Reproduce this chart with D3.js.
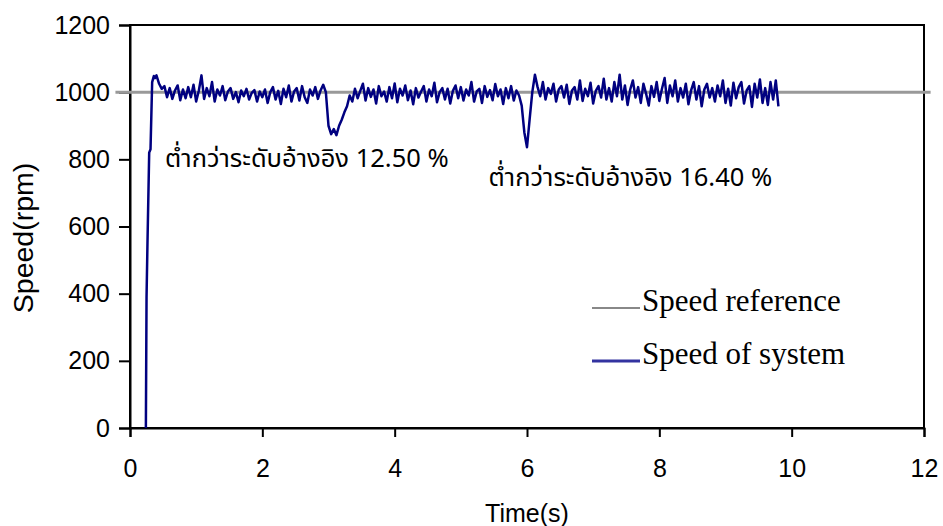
<!DOCTYPE html>
<html>
<head>
<meta charset="utf-8">
<script src="https://cdn.jsdelivr.net/npm/d3@7"></script>
<style>
  body { margin: 0; background: #fff; }
  svg { display: block; }
  .tick text { font-family: "Liberation Sans", Arial, sans-serif; }
</style>
</head>
<body>
<div id="chart"></div>
<script>
// axis ticks
const xTicks = [0, 2, 4, 6, 8, 10, 12];
const yTicks = [0, 200, 400, 600, 800, 1000, 1200];

// speed reference (flat line, drawn a little past both axes like the original)
const refTimes = [-0.22, 12.1];
const refSpeeds = [1000, 1000];

// start-up of the motor
const riseTimes = [0.24, 0.25, 0.265, 0.29, 0.31, 0.335, 0.36, 0.38, 0.40];
const riseSpeeds = [0, 390, 560, 820, 830, 1030, 1048, 1042, 1050];

// steady running, one sample every 0.04 s from 0.44 s
const sampleStart = 0.44;
const sampleStep = 0.04;
const speedValues = [
  1025, 1010, 1018, 985, 1012, 980, 1005, 1020, 976, 1008,
  982, 1015, 985, 1022, 972, 1004, 1050, 980, 1012, 988,
  1030, 972, 1008, 990, 1018, 976, 1002, 1012, 980, 1000,
  970, 1005, 988, 1010, 978, 998, 1006, 972, 1002, 985,
  1008, 968, 1000, 1015, 978, 1004, 965, 1010, 985, 1020,
  972, 1002, 1012, 975, 1018, 985, 968, 1008, 990, 1015,
  980, 1005, 1022, 1000, 900, 875, 890, 872, 900, 918,
  940, 958, 990, 972, 1010, 982, 1004, 1025, 975, 1012,
  986, 1008, 966, 1018, 988, 1002, 972, 1015, 982, 1026,
  970, 1010, 990, 1020, 976, 1005, 964, 1012, 984, 1002,
  1018, 972, 1008, 988, 1028, 970, 1000, 1012, 978, 1010,
  966, 1004, 1020, 982, 1015, 975, 1008, 990, 1030, 972,
  1002, 1010, 968, 1018, 986, 1006, 976, 1024, 988, 1008,
  965, 1012, 982, 1018, 975, 1005, 990, 960, 880, 836,
  920, 1000, 1052, 1015, 988, 1030, 978, 1012, 995, 1025,
  972, 1008, 1018, 984, 1022, 965, 1005, 1015, 978, 1035,
  974, 1010, 988, 1028, 966, 1004, 1018, 984, 1040, 978,
  1012, 972, 1030, 988, 1052, 978, 1020, 962, 1008, 1035,
  984, 1015, 968, 1025, 995, 960, 1018, 986, 1030, 974,
  1010, 1042, 968, 1020, 988, 1035, 972, 1012, 984, 1025,
  964, 1005, 1030, 978, 1018, 958, 1008, 1025, 984, 1012,
  972, 1020, 988, 1035, 968, 1010, 960, 1028, 982, 1015,
  1030, 966, 1005, 1018, 956, 1025, 984, 1038, 968, 1012,
  962, 1030, 978, 1035, 958
];

const notes = [
  { t: 0.53, v: 778, text: "ต่ำกว่าระดับอ้างอิง 12.50 %" },
  { t: 5.42, v: 721, text: "ต่ำกว่าระดับอ้างอิง 16.40 %" }
];

const seriesNames = ["Speed reference", "Speed of system"];

const width = 943, height = 526;
const margin = { top: 25, right: 19, bottom: 98, left: 130 };

const svg = d3.select("#chart").append("svg")
  .attr("width", width)
  .attr("height", height);

const x = d3.scaleLinear().domain([0, 12]).range([margin.left, width - margin.right]);
const y = d3.scaleLinear().domain([0, 1200]).range([height - margin.bottom, margin.top]);

// frame
svg.append("rect")
  .attr("x", x(0)).attr("y", y(1200))
  .attr("width", x(12) - x(0)).attr("height", y(0) - y(1200))
  .attr("fill", "none").attr("stroke", "#000").attr("stroke-width", 2);

const xAxis = svg.append("g")
  .attr("transform", `translate(0,${y(0)})`)
  .call(d3.axisBottom(x).tickValues(xTicks).tickFormat(d3.format("d")).tickSize(9).tickPadding(22));
const yAxis = svg.append("g")
  .attr("transform", `translate(${x(0)},0)`)
  .call(d3.axisLeft(y).tickValues(yTicks).tickFormat(d3.format("d")).tickSize(11).tickPadding(9));

[xAxis, yAxis].forEach(g => {
  g.select(".domain").attr("stroke", "#000").attr("stroke-width", 2);
  g.selectAll(".tick line").attr("stroke", "#000").attr("stroke-width", 2);
  g.selectAll(".tick text").attr("font-size", 25).attr("fill", "#000");
});

svg.append("text")
  .attr("x", (x(0) + x(12)) / 2).attr("y", 522)
  .attr("text-anchor", "middle")
  .attr("font-family", "Liberation Sans, Arial, sans-serif")
  .attr("font-size", 25)
  .text("Time(s)");

svg.append("text")
  .attr("transform", "translate(33,238) rotate(-90)")
  .attr("text-anchor", "middle")
  .attr("font-family", "Liberation Sans, Arial, sans-serif")
  .attr("font-size", 28.5)
  .text("Speed(rpm)");

// data
const refData = refTimes.map((t, i) => [t, refSpeeds[i]]);
const sysData = riseTimes.map((t, i) => [t, riseSpeeds[i]])
  .concat(speedValues.map((v, i) => [sampleStart + i * sampleStep, v]));

const line = d3.line().x(d => x(d[0])).y(d => y(d[1]));

svg.append("path")
  .datum(refData)
  .attr("d", line)
  .attr("fill", "none")
  .attr("stroke", "#999")
  .attr("stroke-width", 3);

svg.append("path")
  .datum(sysData)
  .attr("d", line)
  .attr("fill", "none")
  .attr("stroke", "#000080")
  .attr("stroke-width", 2.5)
  .attr("stroke-linejoin", "round");

// annotations
svg.selectAll(".note").data(notes).enter().append("text")
  .attr("class", "note")
  .attr("x", d => x(d.t)).attr("y", d => y(d.v))
  .attr("font-family", "Tahoma, 'Noto Sans Thai', 'Noto Sans', 'DejaVu Sans', sans-serif")
  .attr("font-size", 25.5)
  .text(d => d.text);

// legend
const legendColors = ["#888", "#3333a0"];
const legendWidths = [2, 3];
const legend = svg.append("g").attr("transform", "translate(592,0)");
seriesNames.forEach((name, i) => {
  const ly = 308 + i * 53;
  legend.append("line")
    .attr("x1", 0).attr("x2", 48)
    .attr("y1", ly).attr("y2", ly)
    .attr("stroke", legendColors[i]).attr("stroke-width", legendWidths[i]);
  legend.append("text")
    .attr("x", 50).attr("y", ly + 3)
    .attr("font-family", "Liberation Serif, 'Times New Roman', serif")
    .attr("font-size", 31)
    .text(name);
});
</script>
</body>
</html>
